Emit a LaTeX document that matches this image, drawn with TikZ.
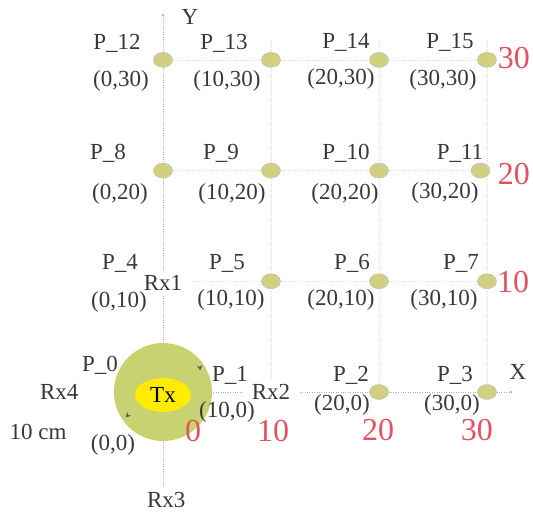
\documentclass[tikz,border=0pt]{standalone}
\usepackage{fontspec}
\setmainfont{Liberation Serif}
\usetikzlibrary{shapes.geometric, arrows.meta}

\definecolor{dotfill}{RGB}{208,208,128}
\definecolor{txring}{RGB}{200,210,112}
\definecolor{txcore}{RGB}{255,236,0}
\definecolor{tickred}{RGB}{226,82,96}
\definecolor{labelgray}{RGB}{56,56,56}

\begin{document}
\begin{tikzpicture}[
  x=10.8pt, y=11.07pt,
  every node/.style = {font=\fontsize{23}{25}\selectfont, text=labelgray},
  pt/.style = {ellipse, draw=gray!55, fill=dotfill, inner sep=0pt,
               minimum width=19pt, minimum height=15pt},
  rx/.style = {ellipse, fill=white, inner sep=1pt},
  tick/.style = {font=\fontsize{32}{34}\selectfont, text=tickred},
  gridline/.style = {gray!30, dotted},
  axis/.style = {->, >=stealth, gray!65, dotted},
]
\useasboundingbox (-15.09,-11.02) rectangle (34.26,35.41);

%% -- grid ---------------------------------------------------------------------
\foreach \g in {10,20,30} {
  \draw[gridline] (\g,31.8) -- (\g,0);
  \draw[gridline] (0,\g) -- (30,\g);
}

%% -- axes ---------------------------------------------------------------------
\coordinate (xend) at (32.4,0);
\coordinate (ybot) at (0,-8.9);
\coordinate (ytop) at (0,34.2);
\draw[axis] (0,0) -- (xend);
\draw[axis] (ybot) -- (ytop);
\node (xlab) at (32.87,1.81) {X};
\node (ylab) at (2.5,33.88) {Y};

%% -- measuring points ---------------------------------------------------------
\node[pt] (p12) at (0,30) {};
\node[pt] (p13) at (10,30) {};
\node[pt] (p14) at (20,30) {};
\node[pt] (p15) at (30,30) {};
\node[pt] (p8)  at (0,20) {};
\node[pt] (p9)  at (10,20) {};
\node[pt] (p10) at (20,20) {};
\node[pt] (p11) at (29.4,20) {};
\node[pt] (p4)  at (0,10) {};
\node[pt] (p5)  at (10,10) {};
\node[pt] (p6)  at (20,10) {};
\node[pt] (p7)  at (30,10) {};
\node[pt] (p1)  at (10,0) {};
\node[pt] (p2)  at (20,0) {};
\node[pt] (p3)  at (30,0) {};

%% -- transmitter --------------------------------------------------------------
\node[circle, fill=txring, minimum size=98pt, inner sep=0pt] (ring) at (0,0) {};
\node[ellipse, fill=txcore, minimum width=56pt, minimum height=34pt,
      inner sep=0pt, text=black] (tx) at (0,-0.27) {Tx};
\draw[txring, -{Stealth[gray!70!black, length=5pt, width=5pt]}]
  (3.35,2.7) -- (3.45,1.95);
\draw[txring, -{Stealth[gray!70!black, length=5pt, width=5pt]}]
  (-3.0,-1.85) -- (-3.45,-2.3);

%% -- receivers ----------------------------------------------------------------
\node[rx] (rx1) at (0,9.85) {Rx1};
\node[rx] (rx2) at (10,0) {Rx2};
\node[rx] (rx3) at (0.3,-9.76) {Rx3};
\node[rx] (rx4) at (-9.6,0) {Rx4};
\node (dist) at (-11.57,-3.61) {10 cm};

%% -- point names and positions ------------------------------------------------
\node (n12) at (-4.26,31.53) {P\_12};  \node (c12) at (-3.89,28.09) {(0,30)};
\node (n13) at (5.65,31.53)  {P\_13};  \node (c13) at (5.93,28.09)  {(10,30)};
\node (n14) at (16.94,31.62) {P\_14};  \node (c14) at (16.48,28.27) {(20,30)};
\node (n15) at (26.57,31.62) {P\_15};  \node (c15) at (25.93,28.18) {(30,30)};

\node (n8)  at (-5.09,21.59) {P\_8};   \node (c8)  at (-3.98,17.89) {(0,20)};
\node (n9)  at (5.37,21.59)  {P\_9};   \node (c9)  at (6.39,17.89)  {(10,20)};
\node (n10) at (16.94,21.59) {P\_10};  \node (c10) at (16.85,17.89) {(20,20)};
\node (n11) at (27.5,21.59)  {P\_11};  \node (c11) at (26.11,17.98) {(30,20)};

\node (n4)  at (-3.98,11.65) {P\_4};   \node (c4)  at (-4.07,8.13)  {(0,10)};
\node (n5)  at (5.93,11.65)  {P\_5};   \node (c5)  at (6.3,8.31)    {(10,10)};
\node (n6)  at (17.5,11.65)  {P\_6};   \node (c6)  at (16.48,8.31)  {(20,10)};
\node (n7)  at (27.59,11.65) {P\_7};   \node (c7)  at (26.02,8.31)  {(30,10)};

\node (n0)  at (-5.83,2.44)  {P\_0};   \node (c0)  at (-4.63,-4.79) {(0,0)};
\node (n1)  at (6.2,1.54)    {P\_1};   \node (c1)  at (5.93,-1.81)  {(10,0)};
\node (n2)  at (17.41,1.54)  {P\_2};   \node (c2)  at (16.57,-1.17) {(20,0)};
\node (n3)  at (27.04,1.54)  {P\_3};   \node (c3)  at (26.76,-1.17) {(30,0)};

%% -- scale numbers ------------------------------------------------------------
\node[tick] (tx0)  at (2.78,-3.52)  {0};
\node[tick] (tx10) at (10.19,-3.52) {10};
\node[tick] (tx20) at (19.91,-3.43) {20};
\node[tick] (tx30) at (29.07,-3.43) {30};
\node[tick] (ty10) at (32.41,9.94)  {10};
\node[tick] (ty20) at (32.5,19.69)  {20};
\node[tick] (ty30) at (32.5,30.17)  {30};

\end{tikzpicture}
\end{document}
